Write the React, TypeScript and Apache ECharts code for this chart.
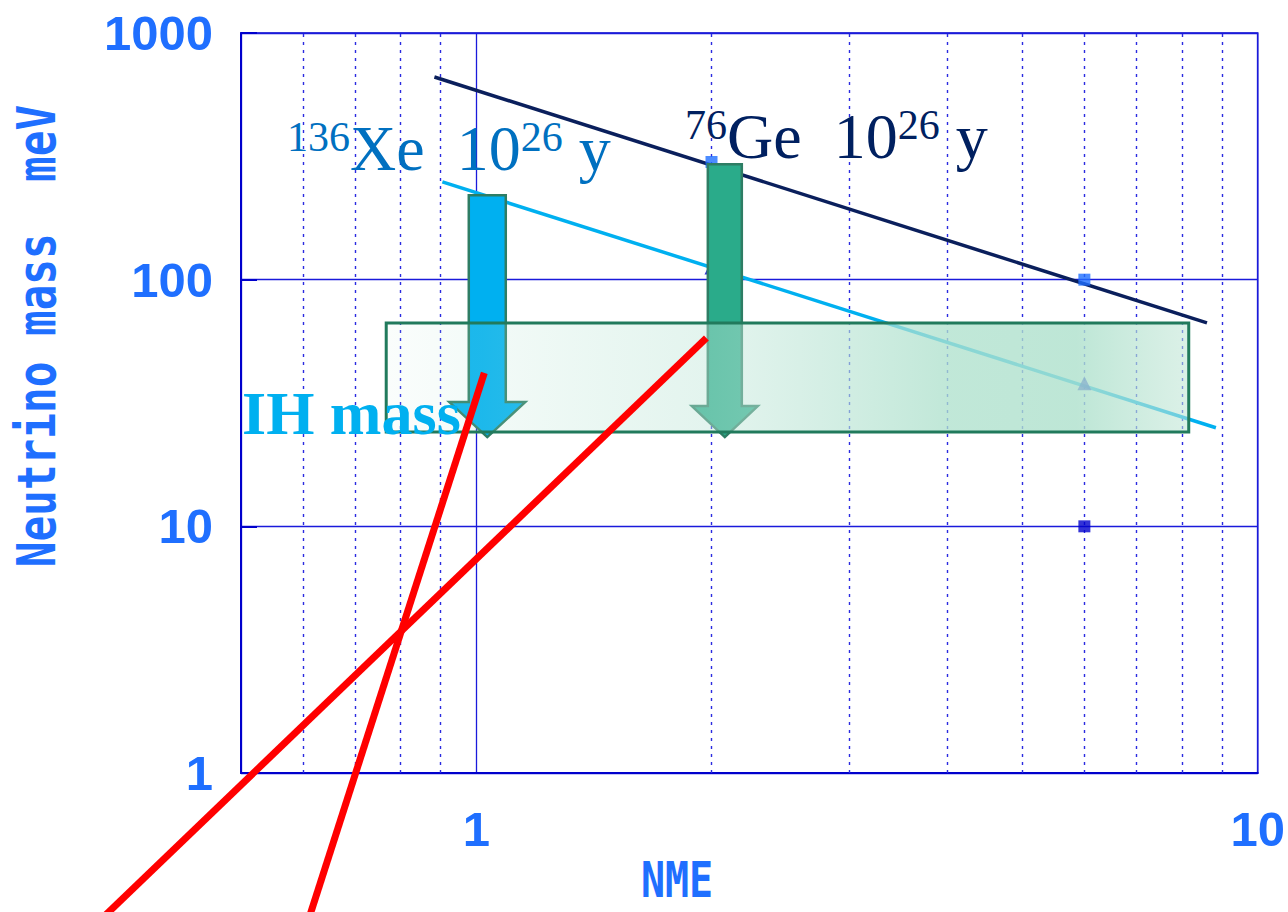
import React, { useEffect, useRef } from "react";
import * as echarts from "echarts";

// Half-life sensitivity lines: effective neutrino mass (meV) vs nuclear matrix element
const geLine: [number, number][] = [
  [0.884, 663],
  [8.61, 66.8],
];
const xeLine: [number, number][] = [
  [0.905, 249],
  [8.84, 25.1],
];
// Measured points on the lines
const geSquares: [number, number][] = [
  [2, 300],
  [6, 100],
];
const darkSquares: [number, number][] = [[6, 10]];
const xeTriangles: [number, number][] = [
  [2, 112],
  [6, 38],
];
// Red constraint lines: [x1, y1, x2, y2]
const redLines: [number, number, number, number][] = [
  [0.32, 0.23, 1.97, 58],
  [0.6, 0.216, 1.024, 41.9],
];
// Inverted-hierarchy mass band: [xFrom, yTop, xTo, yBottom]
const ihBand: [number, number, number, number][] = [[0.767, 66.8, 8.16, 24.1]];
// Down arrows: [x, yFrom, yTo]
const arrows: [number, number, number][] = [
  [1.033, 220, 23],
  [2.08, 294, 23],
];
// Minor log grid positions on the NME axis
const minorX = [0.6, 0.7, 0.8, 0.9, 2, 3, 4, 5, 6, 7, 8, 9];
const yTicks = ["1", "10", "100", "1000"];
const xTicks = ["1", "10"];

const tickFont = '"Liberation Sans", Arial, "DejaVu Sans", sans-serif';
const monoFont = '"DejaVu Sans Mono", "Liberation Mono", monospace';
const serif = '"Liberation Serif", "Times New Roman", "DejaVu Serif", serif';
const axisBlue = "#1f6fff";
const frameBlue = "#0000cc";

const arrowStyles = [
  { shaft: 18.5, head: 38, headLen: 35, fill: "#00b0f0" },
  { shaft: 17, head: 33, headLen: 31, fill: "#2aab8a" },
];

function tickText(v: number, list: string[]) {
  const s = String(Math.round(v));
  return list.indexOf(s) >= 0 ? s : "";
}

function isotopeRich(color: string) {
  return {
    main: { fontFamily: serif, fontSize: 64, lineHeight: 64, fill: color, verticalAlign: "bottom" },
    sup: { fontFamily: serif, fontSize: 42, lineHeight: 36, fill: color, verticalAlign: "top" },
  };
}

export default function App() {
  const ref = useRef<HTMLDivElement>(null);

  useEffect(() => {
    if (!ref.current) return;
    const chart = echarts.init(ref.current, undefined, { renderer: "svg" });

    const bandFill = new echarts.graphic.LinearGradient(0, 0, 1, 0, [
      { offset: 0, color: "rgba(205,236,224,0.10)" },
      { offset: 0.12, color: "rgba(180,228,210,0.16)" },
      { offset: 0.42, color: "rgba(191,230,216,0.45)" },
      { offset: 0.7, color: "rgba(175,225,205,0.78)" },
      { offset: 0.86, color: "rgba(175,225,205,0.82)" },
      { offset: 1, color: "rgba(190,229,212,0.55)" },
    ]);

    chart.setOption({
      animation: false,
      grid: {
        left: 241,
        top: 33,
        right: 30,
        bottom: 139,
        show: true,
        borderColor: frameBlue,
        borderWidth: 1.5,
        backgroundColor: "transparent",
      },
      xAxis: {
        type: "log",
        logBase: 10,
        min: 0.5,
        max: 10,
        axisLine: { lineStyle: { color: frameBlue, width: 2 } },
        axisTick: { show: false },
        axisLabel: {
          showMinLabel: false,
          margin: 31,
          color: axisBlue,
          fontFamily: tickFont,
          fontWeight: "bold",
          fontSize: 49,
          formatter: (v: number) => tickText(v, xTicks),
        },
        splitLine: { show: true, lineStyle: { color: "#1a1adb", width: 1.3 } },
      },
      yAxis: {
        type: "log",
        logBase: 10,
        min: 1,
        max: 1000,
        axisLine: { lineStyle: { color: frameBlue, width: 2 } },
        axisTick: { show: true, inside: true, length: 16, lineStyle: { color: frameBlue, width: 2 } },
        axisLabel: {
          margin: 28,
          color: axisBlue,
          fontFamily: tickFont,
          fontWeight: "bold",
          fontSize: 49,
          formatter: (v: number) => tickText(v, yTicks),
        },
        splitLine: { show: true, lineStyle: { color: "#1a1adb", width: 1.3 } },
      },
      series: [
        {
          name: "grid",
          type: "line",
          data: [],
          z: 1,
          silent: true,
          markLine: {
            z: 1,
            silent: true,
            symbol: ["none", "none"],
            label: { show: false },
            lineStyle: { type: [3, 5], color: "#2b2be0", width: 1.4 },
            data: minorX.map((v) => ({ xAxis: v })),
          },
        },
        {
          name: "76Ge",
          type: "line",
          data: geLine,
          z: 2,
          symbol: "none",
          lineStyle: { color: "#0a1f5c", width: 3.5 },
        },
        {
          name: "136Xe",
          type: "line",
          data: xeLine,
          z: 2,
          symbol: "none",
          lineStyle: { color: "#00b0f0", width: 3.5 },
        },
        {
          type: "scatter",
          data: geSquares,
          z: 2,
          symbol: "rect",
          symbolSize: 12,
          itemStyle: { color: "#1f6fff" },
        },
        {
          type: "scatter",
          data: darkSquares,
          z: 2,
          symbol: "rect",
          symbolSize: 12,
          itemStyle: { color: "#0000cc" },
        },
        {
          type: "scatter",
          data: xeTriangles,
          z: 2,
          symbol: "triangle",
          symbolSize: 14,
          itemStyle: { color: "#0000cc" },
        },
        {
          type: "custom",
          data: arrows,
          z: 3,
          renderItem: (params: any, api: any) => {
            const s = arrowStyles[params.dataIndex];
            const p0 = api.coord([api.value(0), api.value(1)]);
            const p1 = api.coord([api.value(0), api.value(2)]);
            const cx = p0[0];
            const base = p1[1] - s.headLen;
            return {
              type: "polygon",
              shape: {
                points: [
                  [cx - s.shaft, p0[1]],
                  [cx + s.shaft, p0[1]],
                  [cx + s.shaft, base],
                  [cx + s.head, base],
                  [cx, p1[1]],
                  [cx - s.head, base],
                  [cx - s.shaft, base],
                ],
              },
              style: { fill: s.fill, stroke: "#2e7d64", lineWidth: 2.5 },
            };
          },
        },
        {
          type: "custom",
          data: ihBand,
          z: 4,
          renderItem: (_params: any, api: any) => {
            const a = api.coord([api.value(0), api.value(1)]);
            const b = api.coord([api.value(2), api.value(3)]);
            return {
              type: "rect",
              shape: { x: a[0], y: a[1], width: b[0] - a[0], height: b[1] - a[1] },
              style: { fill: bandFill, stroke: "#217a5c", lineWidth: 3 },
            };
          },
        },
        {
          type: "custom",
          data: redLines,
          z: 100,
          clip: false,
          renderItem: (_params: any, api: any) => {
            const a = api.coord([api.value(0), api.value(1)]);
            const b = api.coord([api.value(2), api.value(3)]);
            return {
              type: "line",
              shape: { x1: a[0], y1: a[1], x2: b[0], y2: b[1] },
              style: { stroke: "#ff0000", lineWidth: 7 },
            };
          },
        },
      ],
      graphic: [
        {
          type: "text",
          z: 50,
          x: 36,
          y: 336,
          rotation: Math.PI / 2,
          scaleX: 0.79,
          style: {
            text: "Neutrino mass  meV",
            fill: axisBlue,
            font: `bold 54px ${monoFont}`,
            align: "center",
            verticalAlign: "middle",
          },
        },
        {
          type: "text",
          z: 50,
          x: 677,
          y: 880,
          scaleX: 0.8,
          style: {
            text: "NME",
            fill: axisBlue,
            font: `bold 50px ${monoFont}`,
            align: "center",
            verticalAlign: "middle",
          },
        },
        {
          type: "text",
          z: 50,
          x: 287,
          y: 180,
          style: {
            text: "{sup|136}{main|Xe  10}{sup|26}{main| y}",
            fill: "#0070c0",
            align: "left",
            verticalAlign: "bottom",
            rich: isotopeRich("#0070c0"),
          },
        },
        {
          type: "text",
          z: 50,
          x: 685,
          y: 168,
          style: {
            text: "{sup|76}{main|Ge  10}{sup|26}{main| y}",
            fill: "#002060",
            align: "left",
            verticalAlign: "bottom",
            rich: isotopeRich("#002060"),
          },
        },
        {
          type: "text",
          z: 50,
          x: 242,
          y: 413,
          style: {
            text: "IH mass",
            fill: "#00b0f0",
            font: `bold 62px ${serif}`,
            align: "left",
            verticalAlign: "middle",
          },
        },
      ],
    });

    return () => chart.dispose();
  }, []);

  return (
    <div
      ref={ref}
      style={{ position: "absolute", left: 0, top: 0, width: 1288, height: 912, background: "#fff" }}
    />
  );
}
